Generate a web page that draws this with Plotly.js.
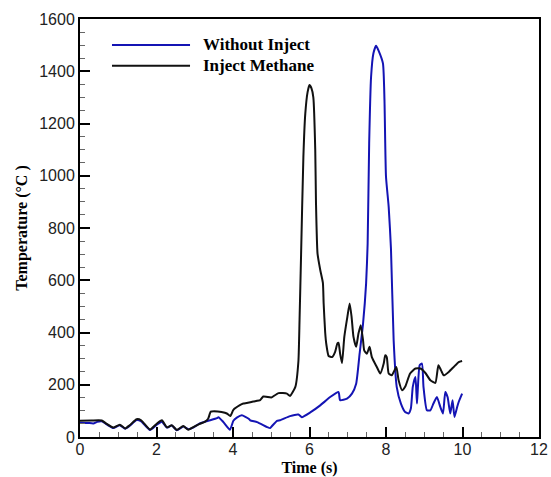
<!DOCTYPE html>
<html>
<head>
<meta charset="utf-8">
<script src="https://cdn.plot.ly/plotly-3.0.1.min.js"></script>
<style>html,body{margin:0;padding:0;background:#fff;}#chart{width:551px;height:477px;}</style>
</head>
<body>
<div id="chart"></div>
<script>
const seriesNames = ["Without Inject", "Inject Methane"];
const seriesColors = ["#1414b4", "#111111"];

const methaneTime = [0,0.3,0.57,0.7,0.87,1.04,1.18,1.3,1.48,1.6,1.83,2.0,2.14,2.27,2.4,2.53,2.7,2.83,2.96,3.13,3.26,3.35,3.42,3.6,3.7,3.84,3.93,4.01,4.18,4.27,4.36,4.53,4.71,4.79,4.97,5.0,5.19,5.41,5.49,5.63,5.71,5.74,5.78,5.84,5.89,5.95,6.0,6.05,6.1,6.15,6.17,6.21,6.28,6.35,6.37,6.41,6.44,6.5,6.59,6.67,6.73,6.76,6.8,6.85,6.91,6.99,7.05,7.1,7.15,7.22,7.28,7.34,7.4,7.43,7.5,7.57,7.63,7.76,7.85,7.94,7.98,8.02,8.07,8.15,8.27,8.33,8.42,8.5,8.63,8.77,8.9,9.03,9.16,9.29,9.37,9.44,9.51,9.64,9.77,9.9,9.99];
const methaneTemp = [62,63,63,50,36,47,33,45,68,64,29,50,64,37,45,27,42,28,38,50,58,70,97,98,96,90,80,104,122,128,130,136,141,155,152,151,168,166,157,192,290,450,700,1072,1238,1320,1347,1335,1300,1100,894,702,640,590,511,400,355,310,306,326,358,360,319,283,383,460,511,460,383,345,396,428,370,332,319,345,306,268,243,281,313,306,243,236,268,217,179,192,243,262,262,245,217,207,275,255,236,249,268,287,291];

const withoutTime = [0,0.2,0.35,0.45,0.57,0.7,0.87,1.04,1.18,1.3,1.48,1.6,1.83,2.0,2.14,2.27,2.4,2.53,2.7,2.83,2.96,3.13,3.23,3.4,3.58,3.62,3.75,3.92,4.01,4.1,4.23,4.41,4.45,4.63,4.89,4.97,5.02,5.15,5.23,5.49,5.71,5.8,6.02,6.28,6.54,6.76,6.8,6.98,7.11,7.22,7.31,7.4,7.48,7.52,7.56,7.61,7.67,7.74,7.8,7.92,7.96,8.0,8.07,8.13,8.2,8.28,8.39,8.5,8.59,8.65,8.7,8.77,8.81,8.88,8.94,8.98,9.07,9.16,9.24,9.33,9.42,9.49,9.55,9.61,9.68,9.74,9.79,9.86,9.9,9.99];
const withoutTemp = [55,54,52,58,60,48,34,45,32,43,65,60,27,46,58,36,44,26,40,30,36,52,57,64,72,76,57,28,62,74,83,70,64,57,38,34,42,62,64,80,86,76,94,121,153,172,141,147,166,204,319,434,588,740,1124,1379,1468,1498,1481,1430,1290,996,881,720,370,192,128,96,90,109,192,230,128,275,281,192,102,102,128,153,115,90,172,153,90,141,77,115,134,166];

const xTickVals = [0,2,4,6,8,10,12];
const yTickVals = [0,200,400,600,800,1000,1200,1400,1600];

const serif = "Liberation Serif, Times New Roman, serif";
const sans = "Liberation Sans, Arial, sans-serif";

const traces = [
  {x: withoutTime, y: withoutTemp, name: seriesNames[0], mode: "lines",
   line: {color: seriesColors[0], width: 2, shape: "spline", smoothing: 0.5}},
  {x: methaneTime, y: methaneTemp, name: seriesNames[1], mode: "lines",
   line: {color: seriesColors[1], width: 2, shape: "spline", smoothing: 0.5}}
];

const legY = [0.938, 0.888];
const shapes = seriesNames.map((n, i) => ({
  type: "line", xref: "paper", yref: "paper", x0: 0.0697, x1: 0.2397, y0: legY[i], y1: legY[i],
  line: {color: seriesColors[i], width: 2}
}));
const annotations = seriesNames.map((n, i) => ({
  text: n, xref: "paper", yref: "paper", x: 0.264, y: legY[i], xanchor: "left", yanchor: "middle",
  showarrow: false, font: {family: serif, size: 17, color: "#000", weight: "bold"}
}));

const layout = {
  width: 551, height: 477,
  margin: {l: 80, r: 12, t: 19, b: 40},
  paper_bgcolor: "#fff", plot_bgcolor: "#fff",
  showlegend: false,
  shapes: shapes,
  annotations: annotations,
  xaxis: {
    range: [0, 12], tickvals: xTickVals, ticktext: xTickVals.map(String),
    showgrid: false, zeroline: false, showline: true, mirror: true, linecolor: "#000", linewidth: 2,
    ticks: "inside", ticklen: 10, tickwidth: 2, tickcolor: "#000",
    minor: {dtick: 0.5, ticks: "inside", ticklen: 5, tickcolor: "#666", tickwidth: 1, showgrid: false},
    tickfont: {family: sans, size: 16, color: "#222"},
    ticklabelstandoff: -3,
    title: {text: "Time (s)", font: {family: serif, size: 16, color: "#000", weight: "bold"}, standoff: 10}
  },
  yaxis: {
    range: [0, 1600], tickvals: yTickVals, ticktext: yTickVals.map(String),
    showgrid: false, zeroline: false, showline: true, mirror: true, linecolor: "#000", linewidth: 2,
    ticks: "inside", ticklen: 10, tickwidth: 2, tickcolor: "#000",
    minor: {dtick: 50, ticks: "inside", ticklen: 5, tickcolor: "#666", tickwidth: 1, showgrid: false},
    tickfont: {family: sans, size: 16, color: "#222"},
    title: {text: "Temperature (°C )", font: {family: serif, size: 16, color: "#000", weight: "bold"}, standoff: 8}
  }
};

Plotly.newPlot("chart", traces, layout, {displayModeBar: false, staticPlot: true});
</script>
</body>
</html>
